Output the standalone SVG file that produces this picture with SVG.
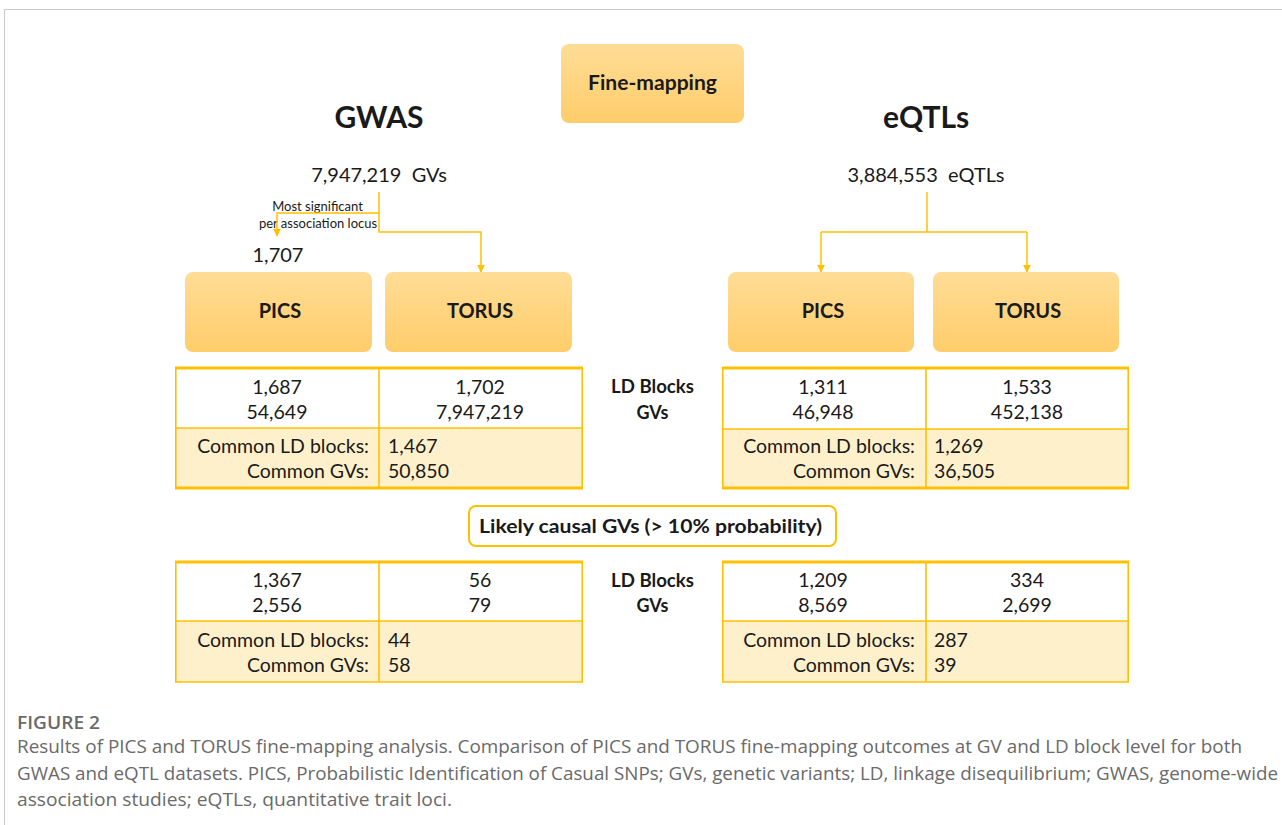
<svg xmlns="http://www.w3.org/2000/svg" width="1282" height="825" viewBox="0 0 1282 825">
  <style>
    .t { font-family: Lato, "Open Sans", "Liberation Sans", sans-serif; fill: #1a1a1a; }
    .b { font-weight: bold; }
    .num { font-size: 19.5px; }
    .conn { fill: none; stroke: #FFC000; stroke-width: 1.5; }
    .thick { stroke: #FFC000; stroke-width: 3; }
    .thin { stroke: #FFC000; stroke-width: 1.6; }
    .cap { font-family: "Open Sans", "Noto Sans", "Liberation Sans", sans-serif; fill: #6a6a6a; font-size: 17.5px; }
  </style>
  <defs>
    <linearGradient id="boxFill" x1="0" y1="0" x2="0" y2="1">
      <stop offset="0" stop-color="#FFDC96"/>
      <stop offset="1" stop-color="#FFCD6A"/>
    </linearGradient>
    <marker id="arrow" viewBox="0 0 10 10" refX="9" refY="5" markerWidth="8" markerHeight="8" markerUnits="userSpaceOnUse" orient="auto">
      <path d="M0,0 L10,5 L0,10 z" fill="#FFC000"/>
    </marker>
  </defs>

  <rect width="1282" height="825" fill="#ffffff"/>
  <!-- page frame -->
  <path d="M4.5,825 V9.5 H1282" fill="none" stroke="#c8c8c8" stroke-width="1"/>

  <!-- title node -->
  <g id="fine-mapping">
    <rect x="561" y="44" width="183" height="79" rx="8" fill="url(#boxFill)"/>
    <text class="t b" x="588" y="90" font-size="20" textLength="129" lengthAdjust="spacingAndGlyphs">Fine-mapping</text>
  </g>

  <!-- column headings -->
  <g id="gwas-heading">
    <text class="t b" x="379" y="128" font-size="30" text-anchor="middle">GWAS</text>
  </g>
  <g id="eqtl-heading">
    <text class="t b" x="926" y="128" font-size="30" text-anchor="middle">eQTLs</text>
  </g>

  <!-- input counts -->
  <g id="gwas-input">
    <text class="t" x="379" y="182" font-size="20" text-anchor="middle" style="white-space:pre">7,947,219  GVs</text>
  </g>
  <g id="eqtl-input">
    <text class="t" x="926" y="182" font-size="20" text-anchor="middle" style="white-space:pre">3,884,553  eQTLs</text>
  </g>

  <g id="gwas-filter-label">
    <text class="t" x="317.5" y="211" font-size="13" text-anchor="middle">Most significant</text>
    <text class="t" x="318" y="228" font-size="13" text-anchor="middle">per association locus</text>
  </g>
  <g id="gwas-pics-input">
    <text class="t" x="278" y="262" font-size="20" text-anchor="middle">1,707</text>
  </g>

  <!-- connectors -->
  <g id="connectors">
    <path class="conn" d="M379,192 V232 H481 V272" marker-end="url(#arrow)"/>
    <path class="conn" d="M379,213 H277 V236" marker-end="url(#arrow)"/>
    <path class="conn" d="M927,192 V232"/>
    <path class="conn" d="M821,232 H1027"/>
    <path class="conn" d="M821,232 V272" marker-end="url(#arrow)"/>
    <path class="conn" d="M1027,232 V272" marker-end="url(#arrow)"/>
  </g>

  <!-- method nodes -->
  <g id="gwas-pics">
    <rect x="185" y="272" width="187" height="80" rx="8" fill="url(#boxFill)"/>
    <text class="t b" x="280" y="318" font-size="20" text-anchor="middle">PICS</text>
  </g>
  <g id="gwas-torus">
    <rect x="385" y="272" width="187" height="80" rx="8" fill="url(#boxFill)"/>
    <text class="t b" x="480" y="318" font-size="20" text-anchor="middle">TORUS</text>
  </g>
  <g id="eqtl-pics">
    <rect x="728" y="272" width="186" height="80" rx="8" fill="url(#boxFill)"/>
    <text class="t b" x="823" y="318" font-size="20" text-anchor="middle">PICS</text>
  </g>
  <g id="eqtl-torus">
    <rect x="933" y="272" width="186" height="80" rx="8" fill="url(#boxFill)"/>
    <text class="t b" x="1028" y="318" font-size="20" text-anchor="middle">TORUS</text>
  </g>

  <!-- GWAS all-variant results -->
  <g id="gwas-all-table">
    <rect x="175" y="428" width="408" height="60" fill="#FFF0CC"/>
    <line class="thick" x1="175" y1="368" x2="583" y2="368"/>
    <line class="thick" x1="175" y1="488" x2="583" y2="488"/>
    <line class="thin" x1="175" y1="428" x2="583" y2="428"/>
    <line class="thin" x1="175.8" y1="368" x2="175.8" y2="488"/>
    <line class="thin" x1="582.2" y1="368" x2="582.2" y2="488"/>
    <line class="thin" x1="379" y1="368" x2="379" y2="488"/>
    <text class="t num" x="277" y="394" text-anchor="middle">1,687</text>
    <text class="t num" x="277" y="419" text-anchor="middle">54,649</text>
    <text class="t num" x="480" y="394" text-anchor="middle">1,702</text>
    <text class="t num" x="480" y="419" text-anchor="middle">7,947,219</text>
    <text class="t num" x="369" y="453" text-anchor="end">Common LD blocks:</text>
    <text class="t num" x="369" y="478" text-anchor="end">Common GVs:</text>
    <text class="t num" x="388" y="453">1,467</text>
    <text class="t num" x="388" y="478">50,850</text>
  </g>

  <g id="row-labels-all">
    <text class="t b" x="611" y="393" font-size="18" textLength="83" lengthAdjust="spacingAndGlyphs">LD Blocks</text>
    <text class="t b" x="652.5" y="419" font-size="18" text-anchor="middle">GVs</text>
  </g>

  <!-- eQTL all-variant results -->
  <g id="eqtl-all-table">
    <rect x="722" y="429" width="407" height="59" fill="#FFF0CC"/>
    <line class="thick" x1="722" y1="368" x2="1129" y2="368"/>
    <line class="thick" x1="722" y1="488" x2="1129" y2="488"/>
    <line class="thin" x1="722" y1="429" x2="1129" y2="429"/>
    <line class="thin" x1="722.8" y1="368" x2="722.8" y2="488"/>
    <line class="thin" x1="1128.2" y1="368" x2="1128.2" y2="488"/>
    <line class="thin" x1="926" y1="368" x2="926" y2="488"/>
    <text class="t num" x="823" y="394" text-anchor="middle">1,311</text>
    <text class="t num" x="823" y="419" text-anchor="middle">46,948</text>
    <text class="t num" x="1027" y="394" text-anchor="middle">1,533</text>
    <text class="t num" x="1027" y="419" text-anchor="middle">452,138</text>
    <text class="t num" x="915" y="453" text-anchor="end">Common LD blocks:</text>
    <text class="t num" x="915" y="478" text-anchor="end">Common GVs:</text>
    <text class="t num" x="934" y="453">1,269</text>
    <text class="t num" x="934" y="478">36,505</text>
  </g>

  <!-- threshold banner -->
  <g id="likely-causal">
    <rect x="469" y="506" width="367" height="40" rx="7" fill="#ffffff" stroke="#FFC000" stroke-width="2"/>
    <text class="t b" x="479" y="533" font-size="18" textLength="343" lengthAdjust="spacingAndGlyphs">Likely causal GVs (&gt; 10% probability)</text>
  </g>

  <!-- GWAS likely causal results -->
  <g id="gwas-causal-table">
    <rect x="175" y="621" width="408" height="61" fill="#FFF0CC"/>
    <line class="thick" x1="175" y1="562" x2="583" y2="562"/>
    <line class="thin" x1="175" y1="682" x2="583" y2="682"/>
    <line class="thin" x1="175" y1="621" x2="583" y2="621"/>
    <line class="thin" x1="175.8" y1="562" x2="175.8" y2="682"/>
    <line class="thin" x1="582.2" y1="562" x2="582.2" y2="682"/>
    <line class="thin" x1="379" y1="562" x2="379" y2="682"/>
    <text class="t num" x="277" y="587" text-anchor="middle">1,367</text>
    <text class="t num" x="277" y="612" text-anchor="middle">2,556</text>
    <text class="t num" x="480" y="587" text-anchor="middle">56</text>
    <text class="t num" x="480" y="612" text-anchor="middle">79</text>
    <text class="t num" x="369" y="647" text-anchor="end">Common LD blocks:</text>
    <text class="t num" x="369" y="672" text-anchor="end">Common GVs:</text>
    <text class="t num" x="388" y="647">44</text>
    <text class="t num" x="388" y="672">58</text>
  </g>

  <g id="row-labels-causal">
    <text class="t b" x="611" y="587" font-size="18" textLength="83" lengthAdjust="spacingAndGlyphs">LD Blocks</text>
    <text class="t b" x="652.5" y="612" font-size="18" text-anchor="middle">GVs</text>
  </g>

  <!-- eQTL likely causal results -->
  <g id="eqtl-causal-table">
    <rect x="722" y="621" width="407" height="61" fill="#FFF0CC"/>
    <line class="thick" x1="722" y1="562" x2="1129" y2="562"/>
    <line class="thin" x1="722" y1="682" x2="1129" y2="682"/>
    <line class="thin" x1="722" y1="621" x2="1129" y2="621"/>
    <line class="thin" x1="722.8" y1="562" x2="722.8" y2="682"/>
    <line class="thin" x1="1128.2" y1="562" x2="1128.2" y2="682"/>
    <line class="thin" x1="926" y1="562" x2="926" y2="682"/>
    <text class="t num" x="823" y="587" text-anchor="middle">1,209</text>
    <text class="t num" x="823" y="612" text-anchor="middle">8,569</text>
    <text class="t num" x="1027" y="587" text-anchor="middle">334</text>
    <text class="t num" x="1027" y="612" text-anchor="middle">2,699</text>
    <text class="t num" x="915" y="647" text-anchor="end">Common LD blocks:</text>
    <text class="t num" x="915" y="672" text-anchor="end">Common GVs:</text>
    <text class="t num" x="934" y="647">287</text>
    <text class="t num" x="934" y="672">39</text>
  </g>

  <!-- caption -->
  <g id="caption">
    <text class="cap" x="17" y="729" font-size="16.5" font-weight="600" fill="#595959" textLength="83" lengthAdjust="spacingAndGlyphs">FIGURE 2</text>
    <text class="cap" x="17" y="753" textLength="1225" lengthAdjust="spacingAndGlyphs">Results of PICS and TORUS fine-mapping analysis. Comparison of PICS and TORUS fine-mapping outcomes at GV and LD block level for both</text>
    <text class="cap" x="17" y="780" textLength="1261" lengthAdjust="spacingAndGlyphs">GWAS and eQTL datasets. PICS, Probabilistic Identification of Casual SNPs; GVs, genetic variants; LD, linkage disequilibrium; GWAS, genome-wide</text>
    <text class="cap" x="17" y="806" textLength="435" lengthAdjust="spacingAndGlyphs">association studies; eQTLs, quantitative trait loci.</text>
  </g>
</svg>
